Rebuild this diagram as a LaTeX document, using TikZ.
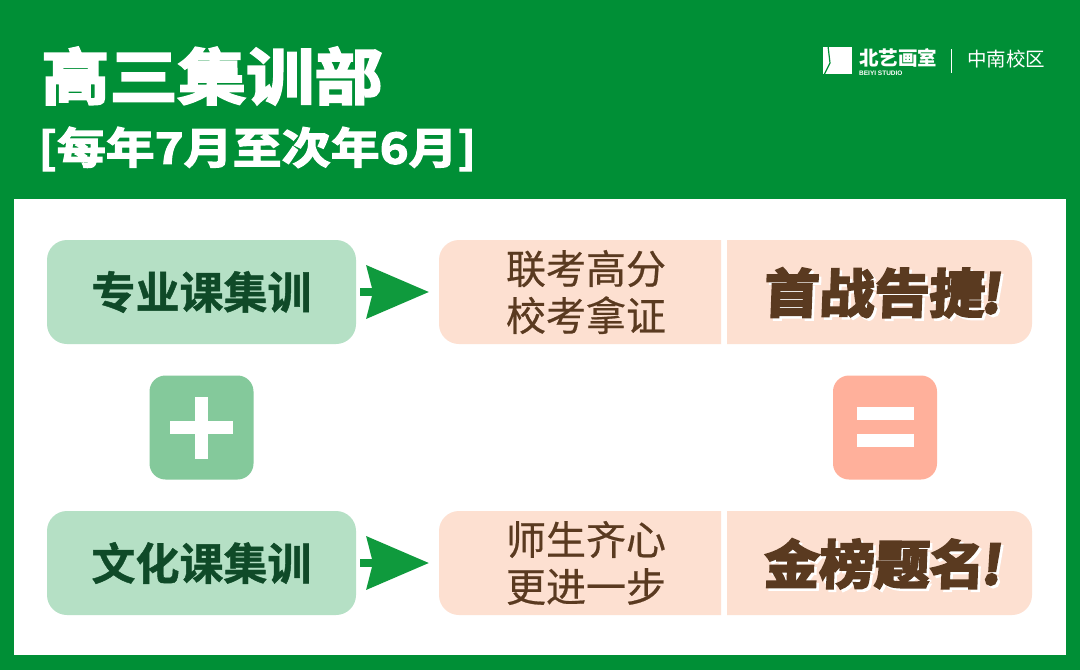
\documentclass[tikz,border=0pt]{standalone}
\usepackage{fontspec}
\usetikzlibrary{arrows.meta}
\newfontfamily\cjk{Noto Sans CJK SC}
\newfontfamily\cjkmid[FakeBold=0.5]{Noto Sans CJK SC}
\newfontfamily\cjkbox[FakeBold=1]{Noto Sans CJK SC Bold}
\newfontfamily\cjktitle[FakeBold=3.5,FakeStretch=1.12]{Noto Sans CJK SC Bold}
\newfontfamily\cjksub[FakeBold=3,FakeStretch=1.14]{Noto Sans CJK SC Bold}
\newfontfamily\cjkslant[FakeBold=4.5,FakeStretch=1.06,FakeSlant=0.04]{Noto Sans CJK SC Bold}
\newfontfamily\markslant[FakeBold=6,FakeSlant=0.12]{Noto Sans CJK SC Bold}
\setmainfont{Liberation Sans}
\definecolor{bggreen}{HTML}{008F36}
\definecolor{arrowgreen}{HTML}{0F9A3D}
\definecolor{lightgreen}{HTML}{B5E0C5}
\definecolor{plusgreen}{HTML}{84C99B}
\definecolor{darkgreen}{HTML}{0F4A28}
\definecolor{peach}{HTML}{FDE0D1}
\definecolor{salmon}{HTML}{FFB09B}
\definecolor{brown}{HTML}{5A3A20}
\newcommand{\shadowed}[1]{\leavevmode\rlap{\kern2.5pt\lower2.5pt\hbox{\color{white}#1}}#1}
\newcommand{\bang}{{\kern-3pt\markslant !}}
\tikzset{
  leftbox/.style={fill=lightgreen, rounded corners=20pt, minimum width=309pt, minimum height=104pt, text=darkgreen, font=\cjkbox\fontsize{44}{48}\selectfont},
  midtext/.style={text=brown, align=center, font=\cjkmid\fontsize{40}{47}\selectfont},
  righttext/.style={text=brown, font=\cjkslant\fontsize{52}{60}\selectfont},
  logotext/.style={text=white, anchor=west, inner sep=0pt},
  signbox/.style={rounded corners=16pt, minimum size=104pt},
  goes/.style={line width=8.5pt, draw=arrowgreen, -{Stealth[length=62pt, width=52pt, inset=6pt, fill=arrowgreen]}, shorten <=4pt, shorten >=10pt},
}
\begin{document}
\begin{tikzpicture}[x=1pt, y=-1pt]
  \useasboundingbox (0,0) rectangle (1080,670);
  \fill[bggreen] (0,0) rectangle (1080,670);
  \fill[white] (14,199) rectangle (1066,655);

  \node[text=white, anchor=west, inner sep=0pt, font=\cjktitle\fontsize{61}{64}\selectfont] (T1) at (41,76) {高三集训部};
  \node[text=white, anchor=west, inner sep=0pt, font=\cjksub\fontsize{43}{46}\selectfont] (T2) at (38,149) {[每年7月至次年6月]};

  \fill[white] (823,47) rectangle (852,74);
  \draw[bggreen, line width=1.2pt] (828,46) -- (830,63) -- (824,75);
  \node[logotext, font=\cjk\bfseries\fontsize{19.5}{20}\selectfont] (C1) at (859,58) {北艺画室};
  \node[logotext, font=\bfseries\fontsize{6.5}{7}\selectfont] (C2) at (859,73) {BEIYI STUDIO};
  \node[logotext, font=\cjk\fontsize{19.5}{20}\selectfont] (C3) at (967,59) {中南校区};
  \draw[white, line width=1pt] (951,49) -- (951,73);

  \node[leftbox] (L1) at (201.5,292) {专业课集训};
  \node[leftbox] (L2) at (201.5,563) {文化课集训};

  \path[fill=peach, rounded corners=20pt] (721,240) -- (439,240) -- (439,344) [sharp corners] -- (721,344) -- cycle;
  \path[fill=peach, rounded corners=20pt] (721,511) -- (439,511) -- (439,615) [sharp corners] -- (721,615) -- cycle;
  \path[fill=peach, rounded corners=20pt] (727,344) -- (1032,344) -- (1032,240) [sharp corners] -- (727,240) -- cycle;
  \path[fill=peach, rounded corners=20pt] (727,615) -- (1032,615) -- (1032,511) [sharp corners] -- (727,511) -- cycle;

  \node[midtext] (M1) at (586,292) {联考高分\\校考拿证};
  \node[midtext] (M2) at (586,563) {师生齐心\\更进一步};
  \coordinate (A1) at (439,292);
  \coordinate (A2) at (439,563);

  \node[righttext] (R1) at (882,294) {\shadowed{首战告捷\bang}};
  \node[righttext] (R2) at (882,565) {\shadowed{金榜题名\bang}};

  \node[signbox, fill=plusgreen] (P) at (201.5,427.5) {};
  \node[signbox, fill=salmon] (E) at (885,427.5) {};
  \fill[white] (170,421) rectangle (233,434);
  \fill[white] (194.5,397) rectangle (208,459);
  \fill[white] (857,407) rectangle (914,419.5);
  \fill[white] (857,434) rectangle (914,447);

  \draw[goes] (L1) -- (A1);
  \draw[goes] (L2) -- (A2);
\end{tikzpicture}
\end{document}
